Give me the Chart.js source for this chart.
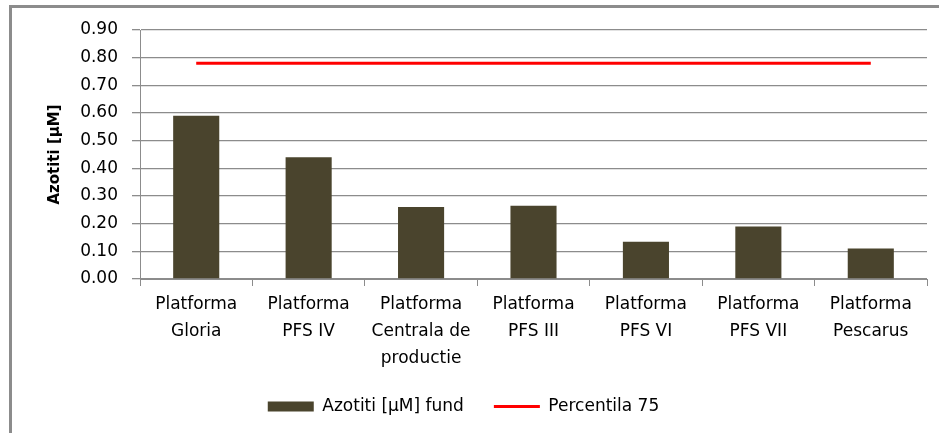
<!DOCTYPE html>
<html>
<head>
<meta charset="utf-8">
<script src="https://cdn.jsdelivr.net/npm/chart.js@4/dist/chart.umd.min.js"></script>
<style>
  html, body { margin: 0; padding: 0; background: #fff; }
  #frame {
    position: absolute; left: 9px; top: 5px; width: 930px; height: 428px;
    border-left: 3px solid #8c8c8c; border-top: 3px solid #8c8c8c;
  }
  #wrap { position: absolute; left: 0; top: 0; width: 939px; height: 433px; }
</style>
</head>
<body>
<div id="frame"></div>
<div id="wrap"><canvas id="chart" width="939" height="433"></canvas></div>
<script>
// Categorii (platforme)
const categories = [
    ['Platforma', 'Gloria'],
    ['Platforma', 'PFS IV'],
    ['Platforma', 'Centrala de', 'productie'],
    ['Platforma', 'PFS III'],
    ['Platforma', 'PFS VI'],
    ['Platforma', 'PFS VII'],
    ['Platforma', 'Pescarus']
];

// Valori azotiti la fund
const azotitiFund = [0.59, 0.44, 0.26, 0.265, 0.135, 0.19, 0.11];

// Percentila 75
const percentila75 = [0.78, 0.78, 0.78, 0.78, 0.78, 0.78, 0.78];

// Etichete axa Y
const yTicks = [0, 0.1, 0.2, 0.3, 0.4, 0.5, 0.6, 0.7, 0.8, 0.9];

const gridColor = '#8c8c8c';
const fontFamily = "'DejaVu Sans', Verdana, sans-serif";

const ctx = document.getElementById('chart').getContext('2d');

new Chart(ctx, {
    type: 'bar',
    data: {
        labels: categories,
        datasets: [
            {
                label: 'Azotiti [µM] fund',
                data: azotitiFund,
                backgroundColor: '#4a442d',
                borderWidth: 0,
                barPercentage: 0.41,
                categoryPercentage: 1,
                pointStyle: 'rect'
            },
            {
                type: 'line',
                label: 'Percentila 75',
                data: percentila75,
                borderColor: '#ff0000',
                backgroundColor: '#ff0000',
                borderWidth: 3,
                pointRadius: 0,
                pointStyle: 'line',
                tension: 0
            }
        ]
    },
    options: {
        responsive: false,
        animation: false,
        layout: {
            padding: { top: 30, right: 12, left: 0, bottom: 8 }
        },
        plugins: {
            tooltip: { enabled: false },
            legend: {
                position: 'bottom',
                labels: {
                    usePointStyle: true,
                    pointStyleWidth: 46,
                    boxHeight: 10,
                    padding: 30,
                    color: '#000',
                    font: { family: fontFamily, size: 17 }
                }
            }
        },
        scales: {
            x: {
                grid: {
                    display: true,
                    offset: true,
                    drawOnChartArea: false,
                    drawTicks: true,
                    tickLength: 7,
                    color: gridColor
                },
                border: { color: gridColor, width: 1 },
                ticks: {
                    color: '#000',
                    padding: 5,
                    maxRotation: 0,
                    autoSkip: false,
                    font: { family: fontFamily, size: 17, lineHeight: 1.6 }
                },
                afterFit(scale) { scale.height = 89; }
            },
            y: {
                min: 0,
                max: 0.9,
                afterBuildTicks(scale) {
                    scale.ticks = yTicks.map(v => ({ value: v }));
                },
                grid: {
                    color: gridColor,
                    lineWidth: 1.3,
                    tickLength: 8
                },
                border: { color: gridColor, width: 1 },
                ticks: {
                    color: '#000',
                    padding: 14,
                    font: { family: fontFamily, size: 17 },
                    callback: v => Number(v).toFixed(2)
                },
                title: {
                    display: true,
                    text: 'Azotiti [µM]',
                    color: '#000',
                    padding: { top: 46, bottom: 0 },
                    font: { family: fontFamily, size: 15, weight: 'bold' }
                },
                afterFit(scale) { scale.width = 140; }
            }
        }
    }
});
</script>
</body>
</html>
